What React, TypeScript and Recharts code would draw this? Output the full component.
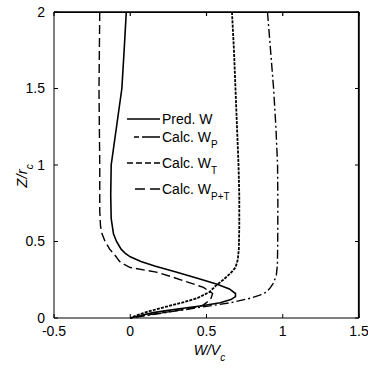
import React from 'react';
import { ScatterChart, Scatter, XAxis, YAxis, Legend, CartesianGrid } from 'recharts';

// ---- data (z = Z/r_c, w = W/V_c) ----
const zPred = [2.0, 1.75, 1.5, 1.25, 1.0, 0.8, 0.65, 0.55, 0.5, 0.45, 0.42, 0.4, 0.37, 0.34, 0.3, 0.26, 0.22, 0.19, 0.16, 0.14, 0.12, 0.1, 0.08, 0.065, 0.05, 0.035, 0.015, 0];
const wPred = [-0.026, -0.04, -0.055, -0.09, -0.125, -0.128, -0.125, -0.11, -0.09, -0.06, -0.03, 0.0, 0.07, 0.16, 0.3, 0.44, 0.57, 0.65, 0.69, 0.69, 0.66, 0.59, 0.47, 0.36, 0.25, 0.15, 0.06, 0];

const zWP = [2.0, 1.75, 1.5, 1.25, 1.0, 0.75, 0.5, 0.35, 0.28, 0.23, 0.2, 0.17, 0.15, 0.13, 0.1, 0.07, 0.04, 0.02, 0];
const wWP = [0.9, 0.92, 0.94, 0.955, 0.966, 0.968, 0.967, 0.965, 0.958, 0.94, 0.92, 0.895, 0.85, 0.79, 0.66, 0.46, 0.26, 0.13, 0];

const zWT = [2.0, 1.75, 1.5, 1.25, 1.0, 0.8, 0.6, 0.45, 0.38, 0.33, 0.29, 0.25, 0.21, 0.17, 0.13, 0.1, 0.07, 0.04, 0.02, 0];
const wWT = [0.667, 0.68, 0.69, 0.7, 0.71, 0.715, 0.715, 0.712, 0.705, 0.69, 0.655, 0.61, 0.56, 0.52, 0.44, 0.34, 0.22, 0.11, 0.05, 0];

const zWPT = [2.0, 1.5, 1.0, 0.7, 0.6, 0.55, 0.5, 0.45, 0.41, 0.37, 0.35, 0.33, 0.3, 0.27, 0.24, 0.2, 0.16, 0.13, 0.1, 0.08, 0.06, 0.04, 0.02, 0];
const wWPT = [-0.2, -0.205, -0.2, -0.2, -0.195, -0.185, -0.165, -0.135, -0.1, -0.07, -0.04, 0.0, 0.17, 0.27, 0.36, 0.48, 0.54, 0.53, 0.5, 0.47, 0.38, 0.25, 0.11, 0];

const xTicks = [-0.5, 0, 0.5, 1, 1.5];
const yTicks = [0, 0.5, 1, 1.5, 2];
const xDomain = [-0.5, 1.5];
const yDomain = [0, 2];

const legendMain = ['Pred. W', 'Calc. W', 'Calc. W', 'Calc. W'];
const legendSub = ['', 'P', 'T', 'P+T'];

// ---- styles / layout ----
const FONT = "Arial, 'Liberation Sans', Helvetica, sans-serif";
const BLACK = '#000';
const CHART_W = 368;
const CHART_H = 370;
const MARGIN = { top: 2, right: 2, bottom: 12, left: 10 };
const RIGHT_AXIS_W = 7;

const toData = (z: number[], w: number[]) => z.map((zz, i) => ({ z: zz, w: w[i] }));

const seriesStyle = [
  { name: 'pred', data: toData(zPred, wPred), dash: undefined as string | undefined, width: 1.6 },
  { name: 'wp', data: toData(zWP, wWP), dash: '9 3 2 3', width: 1.4 },
  { name: 'wt', data: toData(zWT, wWT), dash: '3 1.2', width: 1.8 },
  { name: 'wpt', data: toData(zWPT, wWPT), dash: '9 4', width: 1.4 },
];

const legendRows = [
  { y: 14, x1: 7, dash: undefined as string | undefined },
  { y: 32, x1: 14, dash: '5 3 19' },
  { y: 58, x1: 7, dash: '6 3' },
  { y: 84, x1: 15, dash: '10 5' },
];

const LegendBox = () => (
  <svg width={140} height={100} style={{ overflow: 'visible', display: 'block' }}>
    {legendMain.map((label, i) => {
      const r = legendRows[i];
      return (
        <g key={i}>
          <line x1={r.x1} x2={40} y1={r.y} y2={r.y} stroke={BLACK} strokeWidth={1.6} strokeDasharray={r.dash} />
          <text x={42} y={r.y + 5} fontSize={14} fontFamily={FONT} fill={BLACK}>
            {label}
            {legendSub[i] ? (
              <tspan dy={6} fontSize={10} fill={BLACK}>{legendSub[i]}</tspan>
            ) : null}
          </text>
        </g>
      );
    })}
  </svg>
);

const XTitle = (props: any) => {
  const vb = props.viewBox || { x: 54, y: 318, width: 305 };
  const cx = vb.x + vb.width / 2 + 3;
  return (
    <text x={cx} y={vb.y + 37} textAnchor="middle" fontSize={14} fontStyle="italic" fontFamily={FONT} fill={BLACK}>
      W/V<tspan dy={6} fontSize={10} fill={BLACK}>c</tspan>
    </text>
  );
};

// Y title plus the top/right edges of the plot frame (with inward ticks)
const YTitle = (props: any) => {
  const vb = props.viewBox || { x: 10, y: 12, width: 44, height: 306 };
  const cx = vb.x + 17;
  const cy = vb.y + 164;
  const left = vb.x + vb.width;
  const top = vb.y;
  const bottom = vb.y + vb.height;
  const right = CHART_W - MARGIN.right - RIGHT_AXIS_W;
  const pw = right - left;
  const ph = bottom - top;
  const sx = (v: number) => left + ((v - xDomain[0]) / (xDomain[1] - xDomain[0])) * pw;
  const sy = (v: number) => bottom - ((v - yDomain[0]) / (yDomain[1] - yDomain[0])) * ph;
  let d = `M${left},${top + 0.5}H${right - 0.5}V${bottom}`;
  xTicks.forEach((t) => {
    d += `M${sx(t)},${top}v4`;
  });
  yTicks.forEach((t) => {
    d += `M${right},${sy(t)}h-4`;
  });
  return (
    <g>
      <path d={d} stroke={BLACK} strokeWidth={1.2} fill="none" />
      <text x={cx} y={cy} transform={`rotate(-90 ${cx} ${cy})`} textAnchor="middle" fontSize={15} fontStyle="italic" fontFamily={FONT} fill={BLACK}>
        Z/r<tspan dy={6} fontSize={10} fill={BLACK}>c</tspan>
      </text>
    </g>
  );
};

const tickStyle = { fill: BLACK, fontSize: 14, fontFamily: FONT };

export default function App() {
  return (
    <div style={{ position: 'absolute', left: 0, top: 0, background: '#fff' }}>
      <ScatterChart width={CHART_W} height={CHART_H} margin={MARGIN}>
        <CartesianGrid
          xAxisId="b"
          yAxisId="l"
          stroke={BLACK}
          strokeDasharray="0"
          horizontalValues={[yDomain[1]]}
          verticalValues={[xDomain[1]]}
          fill="none"
        />
        <XAxis
          xAxisId="b"
          type="number"
          dataKey="w"
          domain={xDomain}
          ticks={xTicks}
          height={40}
          stroke={BLACK}
          tickSize={-4}
          tickMargin={12}
          tick={tickStyle}
          label={<XTitle />}
        />
        <XAxis
          xAxisId="t"
          orientation="top"
          type="number"
          dataKey="w"
          domain={xDomain}
          ticks={xTicks}
          height={10}
          stroke={BLACK}
          tickSize={-4}
          tick={false}
        />
        <YAxis
          yAxisId="l"
          type="number"
          dataKey="z"
          domain={yDomain}
          ticks={yTicks}
          width={44}
          stroke={BLACK}
          tickSize={-4}
          tickMargin={13}
          tick={tickStyle}
          label={<YTitle />}
        />
        <YAxis
          yAxisId="r"
          orientation="right"
          type="number"
          dataKey="z"
          domain={yDomain}
          ticks={yTicks}
          width={RIGHT_AXIS_W}
          stroke={BLACK}
          tickSize={-4}
          tick={false}
        />
        {seriesStyle.map((s) => (
          <Scatter
            key={s.name}
            xAxisId="b"
            yAxisId="l"
            data={s.data}
            fill={BLACK}
            isAnimationActive={false}
            legendType="none"
            shape={() => <g />}
            line={{ stroke: BLACK, strokeWidth: s.width, strokeDasharray: s.dash, fill: 'none' }}
            lineType="joint"
          />
        ))}
        <Scatter
          xAxisId="t"
          yAxisId="r"
          data={seriesStyle[0].data}
          fill="none"
          isAnimationActive={false}
          legendType="none"
          shape={() => <g />}
        />
        <Legend
          layout="horizontal"
          verticalAlign="middle"
          align="center"
          content={<LegendBox />}
          wrapperStyle={{ left: 120, top: 105, width: 140, height: 100 }}
        />
      </ScatterChart>
    </div>
  );
}
